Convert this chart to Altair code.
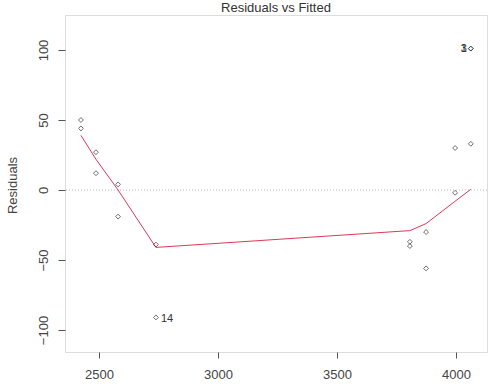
import altair as alt
import pandas as pd

fitted = [2424, 2424, 2487, 2487, 2580, 2580, 2739, 2739,
          3806, 3806, 3874, 3874, 3996, 3996, 4062, 4062, 4062]
resid = [50, 44, 27, 12, 4, -19, -39, -91,
         -37, -40, -30, -56, 30, -2, 33, 101, 101]
labels = ["", "", "", "", "", "", "", "14",
          "", "", "", "", "", "", "", "1", "3"]

smooth_x = [2424, 2487, 2580, 2739, 3806, 3874, 3996, 4062]
smooth_y = [39, 22, 0, -41, -29, -24, -8, 0.5]

title_text = "Residuals vs Fitted"

pts = pd.DataFrame({"fitted": fitted, "resid": resid, "label": labels})
sm = pd.DataFrame({"fitted": smooth_x, "resid": smooth_y})
zero = pd.DataFrame({"y": [0]})
ttl = pd.DataFrame({"t": [title_text]})

FONT = "Liberation Sans"
xscale = alt.Scale(domain=[2357, 4130], nice=False, zero=False)
yscale = alt.Scale(domain=[-115.7, 125], nice=False, zero=False)

xaxis = alt.Axis(values=[2500, 3000, 3500, 4000], format="d", grid=False, domain=False,
                 tickSize=6, tickColor="#555555", labelPadding=10,
                 labelFont=FONT, labelFontSize=13, labelColor="#444444",
                 title=None)
yaxis = alt.Axis(values=[-100, -50, 0, 50, 100], grid=False, domain=False,
                 tickSize=7, tickColor="#555555", labelPadding=8,
                 labelAngle=270, labelAlign="center", labelBaseline="bottom",
                 labelFont=FONT, labelFontSize=13, labelColor="#444444",
                 title="Residuals", titleFont=FONT, titleFontSize=13,
                 titleFontWeight="normal", titleColor="#444444",
                 titleAngle=270, titleX=-53, titleY=170,
                 titleAlign="center", titleBaseline="middle")

base_x = alt.X("fitted:Q", scale=xscale, axis=xaxis)
base_y = alt.Y("resid:Q", scale=yscale, axis=yaxis)

zline = alt.Chart(zero).mark_rule(color="#bbbbbb", strokeDash=[1, 2], strokeWidth=1).encode(
    y=alt.Y("y:Q", scale=yscale)
)

points = alt.Chart(pts).mark_point(shape="diamond", filled=False, size=24,
                                   color="#333333", strokeWidth=1).encode(
    x=base_x, y=base_y
)

line = alt.Chart(sm).mark_line(color="#dd3a55", strokeWidth=1).encode(
    x=alt.X("fitted:Q", scale=xscale), y=alt.Y("resid:Q", scale=yscale)
)

lab_right = alt.Chart(pts).transform_filter(alt.datum.label == "14").mark_text(
    align="left", baseline="middle", dx=5, dy=2, font=FONT, fontSize=11, color="#333333"
).encode(x=alt.X("fitted:Q", scale=xscale), y=alt.Y("resid:Q", scale=yscale), text="label:N")

lab_left = alt.Chart(pts).transform_filter((alt.datum.label == "1") | (alt.datum.label == "3")).mark_text(
    align="right", baseline="middle", dx=-4, font=FONT, fontSize=11, color="#333333"
).encode(x=alt.X("fitted:Q", scale=xscale), y=alt.Y("resid:Q", scale=yscale), text="label:N")

title_mark = alt.Chart(ttl).mark_text(
    align="center", baseline="alphabetic", font=FONT, fontSize=13, color="#333333"
).encode(x=alt.value(211), y=alt.value(-3), text="t:N")

chart = alt.layer(zline, line, points, lab_right, lab_left, title_mark).properties(
    width=422, height=337,
    padding={"left": 65, "top": 15, "right": 6, "bottom": 37},
    autosize=alt.AutoSizeParams(type="none"),
).configure_view(stroke="#555555", strokeWidth=1).configure(background="white")

chart.save("out.html", embed_options={"renderer": "svg", "actions": False})
